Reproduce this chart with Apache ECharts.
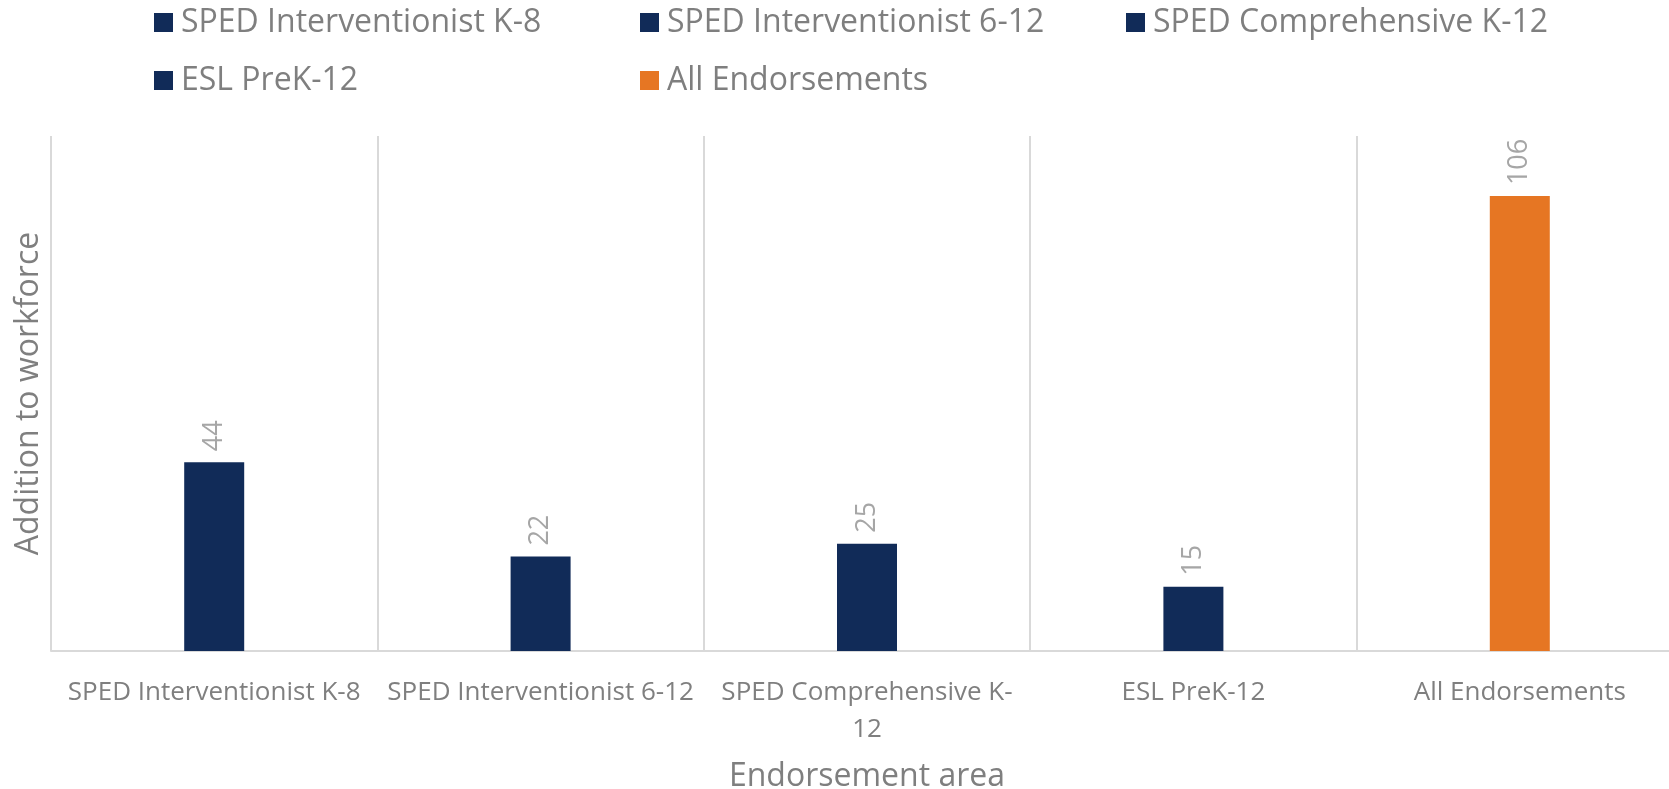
<!DOCTYPE html>
<html>
<head>
    <meta charset="utf-8">
    <script src="https://cdn.jsdelivr.net/npm/echarts@6/dist/echarts.min.js"></script>
    <style>
        html, body { margin: 0; padding: 0; background: #ffffff; }
    </style>
</head>
<body>
    <div id = "main" style = "width: 1669px; height: 789px"></div>
    <script type = "text/javascript">
        // categories / values
        var categories = ['SPED Interventionist K-8', 'SPED Interventionist 6-12', 'SPED Comprehensive K-12', 'ESL PreK-12', 'All Endorsements'];
        var tickLabels = ['SPED Interventionist K-8', 'SPED Interventionist 6-12', 'SPED Comprehensive K-\n12', 'ESL PreK-12', 'All Endorsements'];
        var values = [44, 22, 25, 15, 106];
        var colors = ['#112b58', '#112b58', '#112b58', '#112b58', '#e67623'];

        window.onload = function () {
            chart();
        }

        function chart() {
            var myChart = echarts.init(document.getElementById('main'));
            var serie = [];
            for (var i = 0; i < categories.length; i++) {
                var d = [];
                for (var j = 0; j < categories.length; j++) {
                    d.push(j == i ? values[i] : '-');
                }
                serie.push({
                    name: categories[i],
                    type: 'bar',
                    stack: 'all',
                    barWidth: 60,
                    itemStyle: { color: colors[i] },
                    label: {
                        show: true,
                        position: 'top',
                        rotate: 90,
                        align: 'left',
                        verticalAlign: 'middle',
                        distance: 11,
                        color: '#a6a6a6',
                        fontSize: 27,
                        fontFamily: 'Open Sans'
                    },
                    data: d
                });
            }

            var option = {
                animation: false,
                legend: {
                    left: 154,
                    top: 3,
                    padding: 0,
                    width: 1510,
                    itemWidth: 19,
                    itemHeight: 19,
                    itemGap: 19,
                    icon: 'rect',
                    data: categories,
                    textStyle: {
                        color: '#7f7f7f',
                        fontSize: 32,
                        fontFamily: 'Open Sans',
                        width: 440,
                        lineHeight: 39,
                        padding: [0, 0, 0, 3]
                    }
                },
                grid: {
                    left: 51,
                    top: 136,
                    width: 1632,
                    bottom: 138,
                    containLabel: false,
                    outerBoundsMode: 'none'
                },
                xAxis: {
                    type: 'category',
                    data: tickLabels,
                    name: 'Endorsement area',
                    nameLocation: 'middle',
                    nameGap: 110,
                    nameTextStyle: {
                        color: '#7f7f7f',
                        fontSize: 32,
                        fontFamily: 'Open Sans'
                    },
                    axisLine: { lineStyle: { color: '#d9d9d9', width: 2 } },
                    axisTick: { show: false },
                    splitLine: { show: true, lineStyle: { color: '#d9d9d9', width: 2 } },
                    axisLabel: {
                        interval: 0,
                        hideOverlap: false,
                        margin: 23,
                        color: '#7f7f7f',
                        fontSize: 26,
                        lineHeight: 37,
                        fontFamily: 'Open Sans'
                    }
                },
                yAxis: {
                    type: 'value',
                    min: 0,
                    max: 120,
                    name: 'Addition to workforce',
                    nameLocation: 'middle',
                    nameGap: 6,
                    nameTextStyle: {
                        color: '#7f7f7f',
                        fontSize: 32,
                        fontFamily: 'Open Sans'
                    },
                    axisLine: { show: false },
                    axisTick: { show: false },
                    axisLabel: { show: false },
                    splitLine: { show: false }
                },
                series: serie
            };
            myChart.setOption(option);
        }
    </script>
</body>
</html>
